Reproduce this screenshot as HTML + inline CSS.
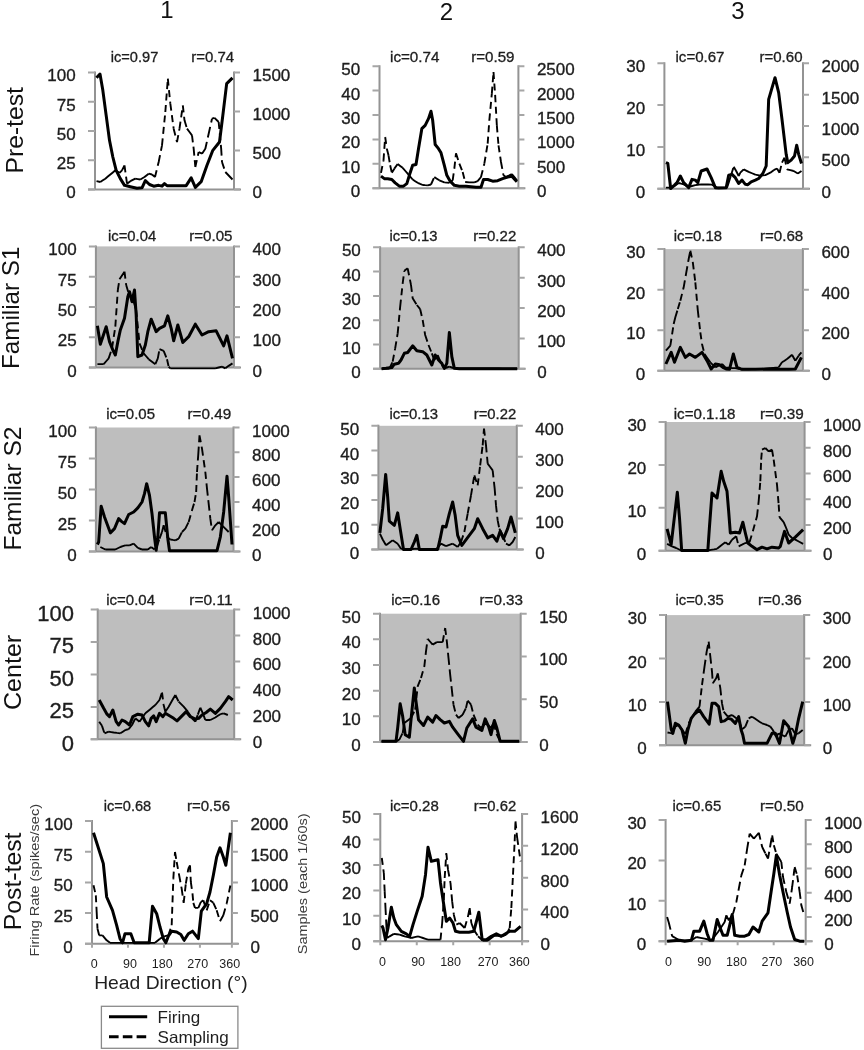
<!DOCTYPE html>
<html><head><meta charset="utf-8"><style>html,body{margin:0;padding:0;background:#fff;}svg{display:block;filter:blur(0.4px)}text{font-family:"Liberation Sans",sans-serif}</style></head><body>
<svg width="864" height="1050" viewBox="0 0 864 1050" font-family="Liberation Sans, sans-serif">
<rect width="864" height="1050" fill="#fff"/>
<g stroke="#939393" stroke-width="2" fill="none">
<path d="M95 71.4V189.4 M234 71.4V189.4 M88 189.4H241"/>
</g>
<path d="M88 72.4H95 M88 101.65H95 M88 130.9H95 M88 160.15H95 M88 189.4H95 M234 72.4H240 M234 111.4H240 M234 150.4H240 M234 189.4H240" stroke="#a6a6a6" stroke-width="2" fill="none"/>
<g fill="#1e1e1e" stroke="#1e1e1e" stroke-width="0.35" font-size="17" text-anchor="end">
<text x="75.7" y="81.4">100</text>
<text x="75.7" y="110.65">75</text>
<text x="75.7" y="139.9">50</text>
<text x="75.7" y="169.15">25</text>
<text x="75.7" y="198.4">0</text>
</g>
<g fill="#1e1e1e" stroke="#1e1e1e" stroke-width="0.35" font-size="17">
<text x="252.5" y="81.4">1500</text>
<text x="252.5" y="120.4">1000</text>
<text x="252.5" y="159.4">500</text>
<text x="252.5" y="198.4">0</text>
</g>
<g fill="#1e1e1e" stroke="#1e1e1e" stroke-width="0.3" font-size="14">
<text x="110.8" y="61.5" textLength="47.5" lengthAdjust="spacingAndGlyphs">ic=0.97</text>
<text x="191.3" y="61.5" textLength="42.9" lengthAdjust="spacingAndGlyphs">r=0.74</text>
</g>
<path d="M96.5 181.17L100.33 182 M100.33 182L102.83 180.33 M102.83 180.33L105.33 178.67 M105.33 178.67L107.83 176.58 M107.83 176.58L110.33 174.5 M110.33 174.5L112.83 172.42 M112.83 172.42L115.33 170.33 M115.33 170.33L119.5 172.83 M119.5 172.83L122 170.33 M122 170.33L124.5 165.33 M124.5 165.33L127 183.67 M127 183.67L130.33 181.17 M130.33 181.17L132.83 179.92 M132.83 179.92L135.33 178.67 M135.33 178.67L137.83 179.08 M137.83 179.08L140.33 179.5 M140.33 179.5L144.5 177 M144.5 177L148.67 173.67 M148.67 173.67L152 174.5 M152 174.5L155 177 M155 177L158.67 162 M158.67 162L162 145.33 M162 145.33L165.33 112 M165.33 112L167.83 78.67 M167.83 78.67L170.33 103.67 M170.33 103.67L173.67 128.67 M173.67 128.67L177 142 M177 142L179.5 128.67 M179.5 128.67L182.83 105.33 M182.83 105.33L184.5 120.33 M184.5 120.33L187 128.67 M187 128.67L189.5 132 M189.5 132L192 135.33 M192 135.33L193.67 148.67 M193.67 148.67L195.33 167 M195.33 167L198.67 152 M198.67 152L202 153.67 M202 153.67L205.33 148.67 M205.33 148.67L208.67 133.67 M208.67 133.67L212 118.67 M212 118.67L214.5 117.83 M214.5 117.83L218.67 122 M218.67 122L221.17 148.67 M221.17 148.67L222 162 M222 162L225.33 172 M225.33 172L228.92 175.75 M228.92 175.75L232.5 179.5" fill="none" stroke="#000" stroke-width="1.9" stroke-dasharray="7 4.5"/>
<path d="M96.5 77.83 L100 74 L102.83 90.33 L106.17 115.33 L109.5 140.33 L112.83 157 L116.17 170.33 L120.33 178.67 L124.5 185.33 L130.33 186.67 L137 188.17 L142 187.83 L145.33 180.67 L149.5 184.5 L153.67 186.17 L158.67 185.33 L162 186.17 L164.5 183.67 L167 185.67 L172 185.67 L178.67 185.67 L186.17 185.67 L191.17 177.83 L195.33 187.33 L201.17 181.67 L207 165.33 L212.83 150.33 L219.5 142 L222.83 115.33 L226.67 83.67 L232.5 77.83" fill="none" stroke="#000" stroke-width="3" stroke-linejoin="round"/>
<g stroke="#939393" stroke-width="2" fill="none">
<path d="M379.5 65.2V188.2 M518.4 65.2V188.2 M372.5 188.2H525.4"/>
</g>
<path d="M372.5 66.2H379.5 M372.5 90.6H379.5 M372.5 115H379.5 M372.5 139.4H379.5 M372.5 163.8H379.5 M372.5 188.2H379.5 M518.4 66.2H524.4 M518.4 90.6H524.4 M518.4 115H524.4 M518.4 139.4H524.4 M518.4 163.8H524.4 M518.4 188.2H524.4" stroke="#a6a6a6" stroke-width="2" fill="none"/>
<g fill="#1e1e1e" stroke="#1e1e1e" stroke-width="0.35" font-size="17" text-anchor="end">
<text x="360.2" y="75.2">50</text>
<text x="360.2" y="99.6">40</text>
<text x="360.2" y="124">30</text>
<text x="360.2" y="148.4">20</text>
<text x="360.2" y="172.8">10</text>
<text x="360.2" y="197.2">0</text>
</g>
<g fill="#1e1e1e" stroke="#1e1e1e" stroke-width="0.35" font-size="17">
<text x="536.9" y="75.2">2500</text>
<text x="536.9" y="99.6">2000</text>
<text x="536.9" y="124">1500</text>
<text x="536.9" y="148.4">1000</text>
<text x="536.9" y="172.8">500</text>
<text x="536.9" y="197.2">0</text>
</g>
<g fill="#1e1e1e" stroke="#1e1e1e" stroke-width="0.3" font-size="14">
<text x="390" y="61.5" textLength="49.5" lengthAdjust="spacingAndGlyphs">ic=0.74</text>
<text x="471.25" y="61.5" textLength="43.25" lengthAdjust="spacingAndGlyphs">r=0.59</text>
</g>
<path d="M381 172.83L383.5 160.33 M383.5 160.33L385.17 137 M385.17 137L386.83 148.67 M386.83 148.67L388.5 155.33 M388.5 155.33L390.17 165.33 M390.17 165.33L391.83 172.83 M391.83 172.83L394.33 168.67 M394.33 168.67L397.67 164 M397.67 164L400.17 165.92 M400.17 165.92L402.67 167.83 M402.67 167.83L405.17 170.75 M405.17 170.75L407.67 173.67 M407.67 173.67L410.17 176.58 M410.17 176.58L412.67 179.5 M412.67 179.5L415.17 181.17 M415.17 181.17L417.67 182.83 M417.67 182.83L420.17 183.92 M420.17 183.92L422.67 185 M422.67 185L425.17 185.17 M425.17 185.17L427.67 185.33 M427.67 185.33L431 184.5 M431 184.5L434.33 177 M434.33 177L436.83 178.67 M436.83 178.67L439.33 180.33 M439.33 180.33L441.83 181.33 M441.83 181.33L444.33 182.33 M444.33 182.33L446.83 182.58 M446.83 182.58L449.33 182.83 M449.33 182.83L452.67 180.33 M452.67 180.33L454.33 168.67 M454.33 168.67L456 153.33 M456 153.33L459.33 163.67 M459.33 163.67L462.67 172 M462.67 172L465.17 182 M465.17 182L469.33 182.33 M469.33 182.33L471.83 182.33 M471.83 182.33L474.33 182.33 M474.33 182.33L477.67 181.17 M477.67 181.17L481 177 M481 177L484.33 163.67 M484.33 163.67L487.67 143.67 M487.67 143.67L489.33 120.33 M489.33 120.33L491.83 93.67 M491.83 93.67L493.5 72 M493.5 72L495.17 95.33 M495.17 95.33L496.83 125.33 M496.83 125.33L498.5 145.33 M498.5 145.33L501 162 M501 162L503.5 175.33 M503.5 175.33L506 177 M506 177L509.33 175.33 M509.33 175.33L511.83 174 M511.83 174L514.37 177.17 M514.37 177.17L516.9 180.33" fill="none" stroke="#000" stroke-width="1.9" stroke-dasharray="7 4.5"/>
<path d="M381 176.17 L384.33 178.67 L387.67 178.67 L391.83 179.5 L395.17 182.83 L399.33 186.17 L403.5 186.17 L406.83 183.67 L409.33 175.33 L412.67 165.33 L416 164.5 L418.5 148.67 L421.83 128.67 L425.17 125.33 L428.5 118.67 L431 111.17 L432.67 120.33 L435.17 144.5 L438.5 148.67 L441 152.83 L444.33 165.33 L446.83 175.33 L450.17 181.17 L454.33 185.33 L459.33 186.17 L466 186.17 L471 186.67 L476 187.33 L481 187.33 L483.5 179.5 L487.67 179.5 L492.67 181.17 L497.67 180.67 L502.67 178.67 L507.67 177 L511.83 176.17 L516.9 181.67" fill="none" stroke="#000" stroke-width="3" stroke-linejoin="round"/>
<g stroke="#939393" stroke-width="2" fill="none">
<path d="M664.4 62.3V188.7 M803 62.3V188.7 M657.4 188.7H810"/>
</g>
<path d="M657.4 63.3H664.4 M657.4 105.1H664.4 M657.4 146.9H664.4 M657.4 188.7H664.4 M803 63.3H809 M803 94.65H809 M803 126H809 M803 157.35H809 M803 188.7H809" stroke="#a6a6a6" stroke-width="2" fill="none"/>
<g fill="#1e1e1e" stroke="#1e1e1e" stroke-width="0.35" font-size="17" text-anchor="end">
<text x="645.1" y="72.3">30</text>
<text x="645.1" y="114.1">20</text>
<text x="645.1" y="155.9">10</text>
<text x="645.1" y="197.7">0</text>
</g>
<g fill="#1e1e1e" stroke="#1e1e1e" stroke-width="0.35" font-size="17">
<text x="821.5" y="72.3">2000</text>
<text x="821.5" y="103.65">1500</text>
<text x="821.5" y="135">1000</text>
<text x="821.5" y="166.35">500</text>
<text x="821.5" y="197.7">0</text>
</g>
<g fill="#1e1e1e" stroke="#1e1e1e" stroke-width="0.3" font-size="14">
<text x="675.5" y="62" textLength="49" lengthAdjust="spacingAndGlyphs">ic=0.67</text>
<text x="759.5" y="62" textLength="43" lengthAdjust="spacingAndGlyphs">r=0.60</text>
</g>
<path d="M665.9 187.67L668.12 187.67 M668.12 187.67L670.33 187.67 M670.33 187.67L674.5 186 M674.5 186L678.67 183 M678.67 183L681.17 183.67 M681.17 183.67L683.67 184.33 M683.67 184.33L686.17 185.58 M686.17 185.58L688.67 186.83 M688.67 186.83L692 186 M692 186L695.33 185.17 M695.33 185.17L697.83 184.75 M697.83 184.75L700.33 184.33 M700.33 184.33L704.22 184.44 M704.22 184.44L708.11 184.56 M708.11 184.56L712 184.67 M712 184.67L714.5 186.17 M714.5 186.17L717 187.67 M717 187.67L720.33 187.67 M720.33 187.67L723.67 187.67 M723.67 187.67L727 187.67 M727 187.67L728.67 182.67 M728.67 182.67L731.17 174.75 M731.17 174.75L733.67 166.83 M733.67 166.83L736.17 171 M736.17 171L738.67 176 M738.67 176L740.33 172.67 M740.33 172.67L743.67 169.33 M743.67 169.33L746.17 170.58 M746.17 170.58L748.67 171.83 M748.67 171.83L752 173.25 M752 173.25L755.33 174.67 M755.33 174.67L757.83 175.17 M757.83 175.17L760.33 175.67 M760.33 175.67L762.83 175.42 M762.83 175.42L765.33 175.17 M765.33 175.17L767.83 173.92 M767.83 173.92L770.33 172.67 M770.33 172.67L773.67 170.17 M773.67 170.17L777 168.5 M777 168.5L779.5 172.67 M779.5 172.67L782 162.67 M782 162.67L784.5 157.67 M784.5 157.67L787 169.33 M787 169.33L790.33 170.17 M790.33 170.17L793.67 171 M793.67 171L797.83 173.5 M797.83 173.5L801.5 171" fill="none" stroke="#000" stroke-width="1.9" stroke-dasharray="7 4.5"/>
<path d="M665.9 162.67 L667.83 163.5 L670.67 188.5 L674.5 185.17 L677 182.67 L680.33 176 L683.67 182.67 L688.67 187.67 L692 179.33 L695.33 180.17 L697.83 182.67 L701.17 171 L707 169 L711.17 177.67 L715.33 187.67 L718.67 188 L726.17 187.67 L728.67 175.17 L732 174.33 L735.33 177.67 L738.67 183.5 L742 180.17 L745.33 184.33 L747.83 184.67 L751.17 181.83 L755.33 180.17 L758.67 178.5 L762.83 173.5 L766.17 166 L768.67 99.33 L775 77.67 L778.67 92.67 L782 119.33 L786.17 154.33 L787.83 162.67 L791.17 160.17 L794.5 156 L796.67 145.17 L798.67 154.33 L801.5 163.5" fill="none" stroke="#000" stroke-width="3" stroke-linejoin="round"/>
<rect x="95.9" y="246.4" width="138.1" height="121.1" fill="#bebebe"/>
<g stroke="#939393" stroke-width="2" fill="none">
<path d="M95.9 245.4V367.5 M234 245.4V367.5 M88.9 367.5H241"/>
</g>
<path d="M88.9 246.4H95.9 M88.9 276.68H95.9 M88.9 306.95H95.9 M88.9 337.23H95.9 M88.9 367.5H95.9 M234 246.4H240 M234 276.68H240 M234 306.95H240 M234 337.23H240 M234 367.5H240" stroke="#a6a6a6" stroke-width="2" fill="none"/>
<g fill="#1e1e1e" stroke="#1e1e1e" stroke-width="0.35" font-size="17" text-anchor="end">
<text x="76.6" y="255.4">100</text>
<text x="76.6" y="285.68">75</text>
<text x="76.6" y="315.95">50</text>
<text x="76.6" y="346.23">25</text>
<text x="76.6" y="376.5">0</text>
</g>
<g fill="#1e1e1e" stroke="#1e1e1e" stroke-width="0.35" font-size="17">
<text x="252.5" y="255.4">400</text>
<text x="252.5" y="285.68">300</text>
<text x="252.5" y="315.95">200</text>
<text x="252.5" y="346.23">100</text>
<text x="252.5" y="376.5">0</text>
</g>
<g fill="#1e1e1e" stroke="#1e1e1e" stroke-width="0.3" font-size="14">
<text x="108" y="241.25" textLength="48.25" lengthAdjust="spacingAndGlyphs">ic=0.04</text>
<text x="189.25" y="241.25" textLength="43.25" lengthAdjust="spacingAndGlyphs">r=0.05</text>
</g>
<path d="M97.4 364.17L100.53 364.17 M100.53 364.17L103.67 364.17 M103.67 364.17L106.17 361.25 M106.17 361.25L108.67 358.33 M108.67 358.33L112 348.33 M112 348.33L115.33 326.67 M115.33 326.67L117.83 290 M117.83 290L119.5 279.17 M119.5 279.17L122 275.42 M122 275.42L124.5 271.67 M124.5 271.67L126.17 285 M126.17 285L128.67 293.33 M128.67 293.33L131.17 297.5 M131.17 297.5L133.67 301.67 M133.67 301.67L136.17 310 M136.17 310L139.5 343.33 M139.5 343.33L143.67 353.33 M143.67 353.33L146.17 356.25 M146.17 356.25L148.67 359.17 M148.67 359.17L152 361.67 M152 361.67L155.33 364.17 M155.33 364.17L157.83 358.33 M157.83 358.33L159.5 349.17 M159.5 349.17L163.67 350.83 M163.67 350.83L167 359.17 M167 359.17L168.67 366.67 M168.67 366.67L170.33 368.33 M170.33 368.33L173.11 368.33 M173.11 368.33L175.89 368.33 M175.89 368.33L178.67 368.33 M178.67 368.33L182 368.33 M182 368.33L185.33 368.33 M185.33 368.33L188.67 368.33 M188.67 368.33L192 368.33 M192 368.33L195.33 368.33 M195.33 368.33L198.67 368.33 M198.67 368.33L202 368.33 M202 368.33L205.33 368.33 M205.33 368.33L208.67 368.33 M208.67 368.33L212 368.33 M212 368.33L215.33 368.33 M215.33 368.33L218.67 367.5 M218.67 367.5L222 366.67 M222 366.67L225.33 368.33 M225.33 368.33L228.67 365.83 M228.67 365.83L232.5 363.33" fill="none" stroke="#000" stroke-width="1.9" stroke-dasharray="7 4.5"/>
<path d="M97.4 325.83 L100.33 344.17 L106.17 326.67 L109.5 341.67 L112.83 350 L115.33 355 L117.83 341.67 L120.33 330 L124.5 318.33 L127.83 296.67 L129.5 291.67 L132 301.67 L134.5 290 L136.17 315 L137.83 356.67 L142 355 L145.33 345 L147.83 331.67 L151.17 319.17 L156.17 331.67 L159.5 328.33 L164.5 325.83 L167.83 315.83 L171.17 328.33 L173.67 340.83 L177.83 325 L182.83 342.5 L188.67 336.67 L195.33 324.17 L202 335 L208.67 331.67 L216.17 330.83 L223.67 345.83 L227 335.83 L232.5 358.33" fill="none" stroke="#000" stroke-width="3" stroke-linejoin="round"/>
<rect x="380.1" y="247.3" width="138.6" height="121.5" fill="#bebebe"/>
<g stroke="#939393" stroke-width="2" fill="none">
<path d="M380.1 246.3V368.8 M518.7 246.3V368.8 M373.1 368.8H525.7"/>
</g>
<path d="M373.1 247.3H380.1 M373.1 271.6H380.1 M373.1 295.9H380.1 M373.1 320.2H380.1 M373.1 344.5H380.1 M373.1 368.8H380.1 M518.7 247.3H524.7 M518.7 277.68H524.7 M518.7 308.05H524.7 M518.7 338.43H524.7 M518.7 368.8H524.7" stroke="#a6a6a6" stroke-width="2" fill="none"/>
<g fill="#1e1e1e" stroke="#1e1e1e" stroke-width="0.35" font-size="17" text-anchor="end">
<text x="360.8" y="256.3">50</text>
<text x="360.8" y="280.6">40</text>
<text x="360.8" y="304.9">30</text>
<text x="360.8" y="329.2">20</text>
<text x="360.8" y="353.5">10</text>
<text x="360.8" y="377.8">0</text>
</g>
<g fill="#1e1e1e" stroke="#1e1e1e" stroke-width="0.35" font-size="17">
<text x="537.2" y="256.3">400</text>
<text x="537.2" y="286.68">300</text>
<text x="537.2" y="317.05">200</text>
<text x="537.2" y="347.43">100</text>
<text x="537.2" y="377.8">0</text>
</g>
<g fill="#1e1e1e" stroke="#1e1e1e" stroke-width="0.3" font-size="14">
<text x="389.5" y="241.25" textLength="48" lengthAdjust="spacingAndGlyphs">ic=0.13</text>
<text x="473.25" y="241.25" textLength="43" lengthAdjust="spacingAndGlyphs">r=0.22</text>
</g>
<path d="M381.6 368.67L385.47 368.67 M385.47 368.67L389.33 368.67 M389.33 368.67L392.67 361.67 M392.67 361.67L395.17 348.33 M395.17 348.33L397.67 333.33 M397.67 333.33L400.17 306.67 M400.17 306.67L402.67 283.33 M402.67 283.33L404.33 270.83 M404.33 270.83L407.67 268.33 M407.67 268.33L411 285 M411 285L412.67 298.33 M412.67 298.33L416.83 305 M416.83 305L420.17 309.17 M420.17 309.17L422.67 320 M422.67 320L425.17 335 M425.17 335L428.5 345 M428.5 345L431.83 353.33 M431.83 353.33L434.33 360 M434.33 360L437.67 355 M437.67 355L441.83 365 M441.83 365L444.33 368.33 M444.33 368.33L446.83 367.5 M446.83 367.5L449.33 366.67 M449.33 366.67L451.83 367.5 M451.83 367.5L454.33 368.33 M454.33 368.33L458.03 368.35 M458.03 368.35L461.73 368.37 M461.73 368.37L465.43 368.39 M465.43 368.39L469.13 368.41 M469.13 368.41L472.82 368.43 M472.82 368.43L476.52 368.45 M476.52 368.45L480.22 368.47 M480.22 368.47L483.92 368.49 M483.92 368.49L487.62 368.51 M487.62 368.51L491.31 368.53 M491.31 368.53L495.01 368.55 M495.01 368.55L498.71 368.57 M498.71 368.57L502.41 368.59 M502.41 368.59L506.11 368.61 M506.11 368.61L509.8 368.63 M509.8 368.63L513.5 368.65 M513.5 368.65L517.2 368.67" fill="none" stroke="#000" stroke-width="1.9" stroke-dasharray="7 4.5"/>
<path d="M381.6 368.67 L386 368.33 L391.83 367.5 L394.33 364.17 L398.5 363.33 L401 360 L404.33 353.33 L407.67 352.5 L412.67 345.83 L416.83 350.83 L422.67 351.67 L426.83 355 L431.83 365 L435.17 355 L438.5 360 L441.83 363.33 L444.33 368.33 L446.83 363.33 L449.33 332.5 L451.83 356.67 L454.33 368.33 L459.33 368.67 L476 368.67 L492.67 368.67 L517.2 368.67" fill="none" stroke="#000" stroke-width="3" stroke-linejoin="round"/>
<rect x="664.4" y="249.1" width="138.5" height="121.7" fill="#bebebe"/>
<g stroke="#939393" stroke-width="2" fill="none">
<path d="M664.4 248.1V370.8 M802.9 248.1V370.8 M657.4 370.8H809.9"/>
</g>
<path d="M657.4 249.1H664.4 M657.4 289.67H664.4 M657.4 330.23H664.4 M657.4 370.8H664.4 M802.9 249.1H808.9 M802.9 289.67H808.9 M802.9 330.23H808.9 M802.9 370.8H808.9" stroke="#a6a6a6" stroke-width="2" fill="none"/>
<g fill="#1e1e1e" stroke="#1e1e1e" stroke-width="0.35" font-size="17" text-anchor="end">
<text x="645.1" y="258.1">30</text>
<text x="645.1" y="298.67">20</text>
<text x="645.1" y="339.23">10</text>
<text x="645.1" y="379.8">0</text>
</g>
<g fill="#1e1e1e" stroke="#1e1e1e" stroke-width="0.35" font-size="17">
<text x="821.4" y="258.1">600</text>
<text x="821.4" y="298.67">400</text>
<text x="821.4" y="339.23">200</text>
<text x="821.4" y="379.8">0</text>
</g>
<g fill="#1e1e1e" stroke="#1e1e1e" stroke-width="0.3" font-size="14">
<text x="673.75" y="241.25" textLength="48.25" lengthAdjust="spacingAndGlyphs">ic=0.18</text>
<text x="760" y="241.25" textLength="43.25" lengthAdjust="spacingAndGlyphs">r=0.68</text>
</g>
<path d="M665.9 350.67L668.12 348.17 M668.12 348.17L670.33 345.67 M670.33 345.67L673.67 324 M673.67 324L675.33 317.33 M675.33 317.33L677.83 309 M677.83 309L680.33 300.67 M680.33 300.67L683.67 287.33 M683.67 287.33L686.17 273.17 M686.17 273.17L688.67 259 M688.67 259L690.33 250.67 M690.33 250.67L692.83 262.33 M692.83 262.33L695.33 282.33 M695.33 282.33L697.83 310.67 M697.83 310.67L700.33 332.33 M700.33 332.33L702 344 M702 344L704.5 354 M704.5 354L707.42 358.17 M707.42 358.17L710.33 362.33 M710.33 362.33L712.83 364.83 M712.83 364.83L715.33 367.33 M715.33 367.33L718.67 365.67 M718.67 365.67L722 364 M722 364L725.33 367.33 M725.33 367.33L728.67 367.75 M728.67 367.75L732 368.17 M732 368.17L735.33 368.17 M735.33 368.17L738.67 368.75 M738.67 368.75L742 369.33 M742 369.33L745.33 369.28 M745.33 369.28L748.67 369.22 M748.67 369.22L752 369.17 M752 369.17L755.33 369.11 M755.33 369.11L758.67 369.06 M758.67 369.06L762 369 M762 369L764.78 368.72 M764.78 368.72L767.56 368.44 M767.56 368.44L770.33 368.17 M770.33 368.17L773.11 367.89 M773.11 367.89L775.89 367.61 M775.89 367.61L778.67 367.33 M778.67 367.33L782 362.33 M782 362.33L784.5 360.67 M784.5 360.67L787 359 M787 359L789.5 356.92 M789.5 356.92L792 354.83 M792 354.83L795.33 360.67 M795.33 360.67L798.67 355.67 M798.67 355.67L801.4 352.33" fill="none" stroke="#000" stroke-width="1.9" stroke-dasharray="7 4.5"/>
<path d="M665.9 364 L671.17 352.33 L674.5 362.33 L680.33 347.33 L685.33 357.33 L689.5 354 L695.33 357.33 L702 352.33 L707 360.67 L711.17 369 L715.33 364 L719.5 364.83 L722.83 367.33 L726.17 369 L729.5 369.33 L733.33 354 L737 367.33 L742 369.33 L755.33 369.33 L770.33 369 L778.67 369.33 L788.67 369.33 L795.33 369 L801.4 357.33" fill="none" stroke="#000" stroke-width="3" stroke-linejoin="round"/>
<rect x="95.9" y="427.5" width="137.6" height="124" fill="#bebebe"/>
<g stroke="#939393" stroke-width="2" fill="none">
<path d="M95.9 426.5V551.5 M233.5 426.5V551.5 M88.9 551.5H240.5"/>
</g>
<path d="M88.9 427.5H95.9 M88.9 458.5H95.9 M88.9 489.5H95.9 M88.9 520.5H95.9 M88.9 551.5H95.9 M233.5 427.5H239.5 M233.5 452.3H239.5 M233.5 477.1H239.5 M233.5 501.9H239.5 M233.5 526.7H239.5 M233.5 551.5H239.5" stroke="#a6a6a6" stroke-width="2" fill="none"/>
<g fill="#1e1e1e" stroke="#1e1e1e" stroke-width="0.35" font-size="17" text-anchor="end">
<text x="76.6" y="436.5">100</text>
<text x="76.6" y="467.5">75</text>
<text x="76.6" y="498.5">50</text>
<text x="76.6" y="529.5">25</text>
<text x="76.6" y="560.5">0</text>
</g>
<g fill="#1e1e1e" stroke="#1e1e1e" stroke-width="0.35" font-size="17">
<text x="252" y="436.5">1000</text>
<text x="252" y="461.3">800</text>
<text x="252" y="486.1">600</text>
<text x="252" y="510.9">400</text>
<text x="252" y="535.7">200</text>
<text x="252" y="560.5">0</text>
</g>
<g fill="#1e1e1e" stroke="#1e1e1e" stroke-width="0.3" font-size="14">
<text x="106.25" y="418.75" textLength="48.75" lengthAdjust="spacingAndGlyphs">ic=0.05</text>
<text x="187.5" y="418.75" textLength="43.75" lengthAdjust="spacingAndGlyphs">r=0.49</text>
</g>
<path d="M100.33 547L102.83 548.25 M102.83 548.25L105.33 549.5 M105.33 549.5L107.83 549.5 M107.83 549.5L110.33 549.5 M110.33 549.5L112.83 549.5 M112.83 549.5L115.33 549.5 M115.33 549.5L117.83 548.25 M117.83 548.25L120.33 547 M120.33 547L122.83 546.17 M122.83 546.17L125.33 545.33 M125.33 545.33L129.5 545.33 M129.5 545.33L133.67 543.67 M133.67 543.67L137.83 547.83 M137.83 547.83L142 549.5 M142 549.5L144.92 549.5 M144.92 549.5L147.83 549.5 M147.83 549.5L151.17 547 M151.17 547L154.5 549.5 M154.5 549.5L157 546.17 M157 546.17L159.5 538.67 M159.5 538.67L162 532 M162 532L163.67 525.33 M163.67 525.33L167 537 M167 537L170.33 539.5 M170.33 539.5L172.83 539.92 M172.83 539.92L175.33 540.33 M175.33 540.33L178.67 538.67 M178.67 538.67L182 532 M182 532L185.33 528.67 M185.33 528.67L188.67 522 M188.67 522L192 510.33 M192 510.33L194.5 502 M194.5 502L196.17 492 M196.17 492L197 472 M197 472L198.33 453.67 M198.33 453.67L199.5 435.33 M199.5 435.33L202 448.67 M202 448.67L203.67 460.33 M203.67 460.33L205.33 472 M205.33 472L207 488.67 M207 488.67L208.67 503.67 M208.67 503.67L210.33 518.67 M210.33 518.67L212 530.33 M212 530.33L215.33 525.33 M215.33 525.33L218.67 522 M218.67 522L222 525.33 M222 525.33L225.33 528.67 M225.33 528.67L228.67 532" fill="none" stroke="#000" stroke-width="1.9" stroke-dasharray="7 4.5"/>
<path d="M97.4 544.5 L98.67 542 L101.17 506.17 L104.5 517 L110.33 532.83 L114.5 528.67 L118.67 518.67 L121.17 521.17 L124.5 523.67 L128.67 514.5 L133.67 512 L137.83 507.83 L142 502 L144.5 493.67 L146.67 483.67 L149.5 495.33 L152 513.67 L154.5 537 L156.17 550.33 L157.83 537 L159.5 512.83 L163.67 512.83 L165.33 512.83 L167.83 538.67 L169.5 550.67 L175.33 550.67 L192 550.67 L208.67 550.67 L217 550.67 L220.33 537 L223.67 512 L227 476.17 L228.67 497 L232 544.5" fill="none" stroke="#000" stroke-width="3" stroke-linejoin="round"/>
<rect x="378.4" y="425.8" width="138.4" height="123.7" fill="#bebebe"/>
<g stroke="#939393" stroke-width="2" fill="none">
<path d="M378.4 424.8V549.5 M516.8 424.8V549.5 M371.4 549.5H523.8"/>
</g>
<path d="M371.4 425.8H378.4 M371.4 450.54H378.4 M371.4 475.28H378.4 M371.4 500.02H378.4 M371.4 524.76H378.4 M371.4 549.5H378.4 M516.8 425.8H522.8 M516.8 456.73H522.8 M516.8 487.65H522.8 M516.8 518.58H522.8 M516.8 549.5H522.8" stroke="#a6a6a6" stroke-width="2" fill="none"/>
<g fill="#1e1e1e" stroke="#1e1e1e" stroke-width="0.35" font-size="17" text-anchor="end">
<text x="359.1" y="434.8">50</text>
<text x="359.1" y="459.54">40</text>
<text x="359.1" y="484.28">30</text>
<text x="359.1" y="509.02">20</text>
<text x="359.1" y="533.76">10</text>
<text x="359.1" y="558.5">0</text>
</g>
<g fill="#1e1e1e" stroke="#1e1e1e" stroke-width="0.35" font-size="17">
<text x="535.3" y="434.8">400</text>
<text x="535.3" y="465.73">300</text>
<text x="535.3" y="496.65">200</text>
<text x="535.3" y="527.58">100</text>
<text x="535.3" y="558.5">0</text>
</g>
<g fill="#1e1e1e" stroke="#1e1e1e" stroke-width="0.3" font-size="14">
<text x="389.5" y="418.75" textLength="48.5" lengthAdjust="spacingAndGlyphs">ic=0.13</text>
<text x="473.75" y="418.75" textLength="42.5" lengthAdjust="spacingAndGlyphs">r=0.22</text>
</g>
<path d="M379.9 533.67L382.67 539.5 M382.67 539.5L386 545.33 M386 545.33L389.33 542.83 M389.33 542.83L392.67 540.33 M392.67 540.33L395.17 542 M395.17 542L397.67 543.67 M397.67 543.67L401 548.67 M401 548.67L403.5 549.08 M403.5 549.08L406 549.5 M406 549.5L409.33 549.22 M409.33 549.22L412.67 548.94 M412.67 548.94L416 548.67 M416 548.67L419.33 549.08 M419.33 549.08L422.67 549.5 M422.67 549.5L426 549.5 M426 549.5L429.33 549.5 M429.33 549.5L432.67 549.5 M432.67 549.5L436 549.5 M436 549.5L438.5 546.58 M438.5 546.58L441 543.67 M441 543.67L443.5 544.92 M443.5 544.92L446 546.17 M446 546.17L449.33 544.92 M449.33 544.92L452.67 543.67 M452.67 543.67L455.17 545.33 M455.17 545.33L457.67 547 M457.67 547L461 542 M461 542L464.33 532 M464.33 532L467.67 513.67 M467.67 513.67L471 495.33 M471 495.33L474.33 475.33 M474.33 475.33L477.67 485.33 M477.67 485.33L480.17 465.33 M480.17 465.33L482.67 445.33 M482.67 445.33L484 428.67 M484 428.67L486 445.33 M486 445.33L487.67 463.67 M487.67 463.67L490.17 467 M490.17 467L492.67 470.33 M492.67 470.33L494.67 488.67 M494.67 488.67L496 505.33 M496 505.33L497.67 520.33 M497.67 520.33L499.33 528.67 M499.33 528.67L502.67 535.33 M502.67 535.33L506 543.67 M506 543.67L509.33 545.33 M509.33 545.33L512.67 542 M512.67 542L515.3 537" fill="none" stroke="#000" stroke-width="1.9" stroke-dasharray="7 4.5"/>
<path d="M379.9 532.83 L382.67 508.67 L385.67 474.5 L387.67 497 L389.33 521.17 L394.33 525.33 L397.67 512.83 L400.17 528.67 L403.5 549.5 L411 549.5 L414.33 542 L416.83 535.33 L419.33 549.5 L426 549.5 L437.67 549.5 L440.17 538.67 L442.67 526.17 L446 527 L449.33 513.67 L452.67 502 L455.17 515.33 L457.67 535.33 L461.83 545.33 L466.83 538.67 L474.33 528.67 L477.67 518.67 L482.67 528.67 L487.67 537.83 L492.67 535.33 L496.83 541.17 L500.17 531.17 L503.5 538.67 L507.67 528.67 L511 517 L515.3 532.83" fill="none" stroke="#000" stroke-width="3" stroke-linejoin="round"/>
<rect x="665.6" y="422" width="139" height="128.7" fill="#bebebe"/>
<g stroke="#939393" stroke-width="2" fill="none">
<path d="M665.6 421V550.7 M804.6 421V550.7 M658.6 550.7H811.6"/>
</g>
<path d="M658.6 422H665.6 M658.6 464.9H665.6 M658.6 507.8H665.6 M658.6 550.7H665.6 M804.6 422H810.6 M804.6 447.74H810.6 M804.6 473.48H810.6 M804.6 499.22H810.6 M804.6 524.96H810.6 M804.6 550.7H810.6" stroke="#a6a6a6" stroke-width="2" fill="none"/>
<g fill="#1e1e1e" stroke="#1e1e1e" stroke-width="0.35" font-size="17" text-anchor="end">
<text x="646.3" y="431">30</text>
<text x="646.3" y="473.9">20</text>
<text x="646.3" y="516.8">10</text>
<text x="646.3" y="559.7">0</text>
</g>
<g fill="#1e1e1e" stroke="#1e1e1e" stroke-width="0.35" font-size="17">
<text x="823.1" y="431">1000</text>
<text x="823.1" y="456.74">800</text>
<text x="823.1" y="482.48">600</text>
<text x="823.1" y="508.22">400</text>
<text x="823.1" y="533.96">200</text>
<text x="823.1" y="559.7">0</text>
</g>
<g fill="#1e1e1e" stroke="#1e1e1e" stroke-width="0.3" font-size="14">
<text x="673.75" y="418.75" textLength="61.75" lengthAdjust="spacingAndGlyphs">ic=0.1.18</text>
<text x="760" y="418.75" textLength="43.75" lengthAdjust="spacingAndGlyphs">r=0.39</text>
</g>
<path d="M667.1 543.83L669.55 545.08 M669.55 545.08L672 546.33 M672 546.33L676.17 548 M676.17 548L678.67 549.25 M678.67 549.25L681.17 550.5 M681.17 550.5L684.71 550.5 M684.71 550.5L688.25 550.5 M688.25 550.5L691.79 550.5 M691.79 550.5L695.33 550.5 M695.33 550.5L698.46 550.5 M698.46 550.5L701.58 550.5 M701.58 550.5L704.71 550.5 M704.71 550.5L707.83 550.5 M707.83 550.5L710.89 549.94 M710.89 549.94L713.94 549.39 M713.94 549.39L717 548.83 M717 548.83L719.5 546.75 M719.5 546.75L722 544.67 M722 544.67L725.33 542.17 M725.33 542.17L728.67 544.67 M728.67 544.67L732 539.67 M732 539.67L736.17 536.33 M736.17 536.33L738.67 546.33 M738.67 546.33L742 544.67 M742 544.67L745.33 543 M745.33 543L749.5 542.17 M749.5 542.17L752.83 531.33 M752.83 531.33L757 516.33 M757 516.33L758.67 501.33 M758.67 501.33L760.33 481.33 M760.33 481.33L761.17 459.67 M761.17 459.67L762 449.67 M762 449.67L765.33 448 M765.33 448L768.67 451.33 M768.67 451.33L772 449.67 M772 449.67L773.67 459.67 M773.67 459.67L777 484.67 M777 484.67L778.67 504.67 M778.67 504.67L779.5 517.17 M779.5 517.17L783.67 522.17 M783.67 522.17L786.17 528 M786.17 528L788.67 534.67 M788.67 534.67L792 538 M792 538L795.33 539.67 M795.33 539.67L799.22 541.75 M799.22 541.75L803.1 543.83" fill="none" stroke="#000" stroke-width="1.9" stroke-dasharray="7 4.5"/>
<path d="M667.1 528.83 L671.17 544.67 L677.33 492.17 L679.5 518 L681.67 550.5 L687 550.5 L695.33 550.5 L707.83 550.5 L709.5 526.33 L712 493 L717 498 L721.17 471.33 L723.67 481.33 L727 491.33 L728.67 511.33 L730.33 533 L735.33 532.17 L739.5 533 L742.83 522.17 L745.33 533 L747.83 543 L752 546.33 L757 549.67 L762 547.17 L767 548.83 L772 547.17 L778.67 548 L780.33 546.33 L784.5 531.33 L788.67 543 L795.33 537.17 L803.1 529.67" fill="none" stroke="#000" stroke-width="3" stroke-linejoin="round"/>
<rect x="97.7" y="609.6" width="136.5" height="129.7" fill="#bebebe"/>
<g stroke="#939393" stroke-width="2" fill="none">
<path d="M97.7 608.6V739.3 M234.2 608.6V739.3 M90.7 739.3H241.2"/>
</g>
<path d="M90.7 609.6H97.7 M90.7 642.02H97.7 M90.7 674.45H97.7 M90.7 706.88H97.7 M90.7 739.3H97.7 M234.2 609.6H240.2 M234.2 635.54H240.2 M234.2 661.48H240.2 M234.2 687.42H240.2 M234.2 713.36H240.2 M234.2 739.3H240.2" stroke="#a6a6a6" stroke-width="2" fill="none"/>
<g fill="#1e1e1e" stroke="#1e1e1e" stroke-width="0.35" font-size="22" text-anchor="end">
<text x="74" y="620.9">100</text>
<text x="74" y="653.32">75</text>
<text x="74" y="685.75">50</text>
<text x="74" y="718.17">25</text>
<text x="74" y="750.6">0</text>
</g>
<g fill="#1e1e1e" stroke="#1e1e1e" stroke-width="0.35" font-size="17">
<text x="252.7" y="618.6">1000</text>
<text x="252.7" y="644.54">800</text>
<text x="252.7" y="670.48">600</text>
<text x="252.7" y="696.42">400</text>
<text x="252.7" y="722.36">200</text>
<text x="252.7" y="748.3">0</text>
</g>
<g fill="#1e1e1e" stroke="#1e1e1e" stroke-width="0.3" font-size="14">
<text x="106.25" y="605" textLength="48.75" lengthAdjust="spacingAndGlyphs">ic=0.04</text>
<text x="189.25" y="605" textLength="43.25" lengthAdjust="spacingAndGlyphs">r=0.11</text>
</g>
<path d="M99.2 721.67L102 725.83 M102 725.83L104.5 733.33 M104.5 733.33L108.67 731.67 M108.67 731.67L111.17 732.08 M111.17 732.08L113.67 732.5 M113.67 732.5L117 732.92 M117 732.92L120.33 733.33 M120.33 733.33L122.83 731.67 M122.83 731.67L125.33 730 M125.33 730L128.67 729.17 M128.67 729.17L132 725 M132 725L135.33 718.33 M135.33 718.33L139.5 721.67 M139.5 721.67L142.42 717.5 M142.42 717.5L145.33 713.33 M145.33 713.33L147.83 711.25 M147.83 711.25L150.33 709.17 M150.33 709.17L152.83 707.08 M152.83 707.08L155.33 705 M155.33 705L159.5 700 M159.5 700L162 692.5 M162 692.5L163.67 705 M163.67 705L165.33 711.67 M165.33 711.67L168.67 706.67 M168.67 706.67L172 700.83 M172 700.83L175.33 695 M175.33 695L178.67 701.67 M178.67 701.67L181.17 704.17 M181.17 704.17L183.67 706.67 M183.67 706.67L187.83 711.67 M187.83 711.67L192 718.33 M192 718.33L195.33 721.67 M195.33 721.67L197.83 714.58 M197.83 714.58L200.33 707.5 M200.33 707.5L202.83 713.33 M202.83 713.33L205.33 720 M205.33 720L207.83 720 M207.83 720L210.33 720 M210.33 720L212.83 718.75 M212.83 718.75L215.33 717.5 M215.33 717.5L217.83 715.83 M217.83 715.83L220.33 714.17 M220.33 714.17L223.67 713.33 M223.67 713.33L227.83 715" fill="none" stroke="#000" stroke-width="1.9" stroke-dasharray="7 4.5"/>
<path d="M99.2 700 L103.67 708.33 L107 714.17 L109.5 716.67 L112.83 710 L116.17 721.67 L118.67 725 L122 720 L125.33 721.67 L129.5 725 L132.83 716.67 L137.83 714.17 L142 715 L145.33 721.67 L148.67 725.83 L151.17 718.33 L153.67 715.83 L156.17 721.67 L159.5 713.33 L162.83 716.67 L165.33 713.33 L169.5 715.83 L173.67 718.33 L177 720.83 L182 715.83 L186.17 711.67 L190.33 716.67 L195.33 719.17 L198.67 718.33 L202 715 L206.17 712.5 L210.33 709.17 L215.33 713.33 L220.33 708.33 L225.33 701.67 L228.67 696.67 L232.7 700" fill="none" stroke="#000" stroke-width="3" stroke-linejoin="round"/>
<rect x="380" y="613.7" width="140.7" height="128.3" fill="#bebebe"/>
<g stroke="#939393" stroke-width="2" fill="none">
<path d="M380 612.7V742 M520.7 612.7V742 M373 742H527.7"/>
</g>
<path d="M373 613.7H380 M373 639.36H380 M373 665.02H380 M373 690.68H380 M373 716.34H380 M373 742H380 M520.7 613.7H526.7 M520.7 656.47H526.7 M520.7 699.23H526.7 M520.7 742H526.7" stroke="#a6a6a6" stroke-width="2" fill="none"/>
<g fill="#1e1e1e" stroke="#1e1e1e" stroke-width="0.35" font-size="17" text-anchor="end">
<text x="360.7" y="622.7">50</text>
<text x="360.7" y="648.36">40</text>
<text x="360.7" y="674.02">30</text>
<text x="360.7" y="699.68">20</text>
<text x="360.7" y="725.34">10</text>
<text x="360.7" y="751">0</text>
</g>
<g fill="#1e1e1e" stroke="#1e1e1e" stroke-width="0.35" font-size="17">
<text x="539.2" y="622.7">150</text>
<text x="539.2" y="665.47">100</text>
<text x="539.2" y="708.23">50</text>
<text x="539.2" y="751">0</text>
</g>
<g fill="#1e1e1e" stroke="#1e1e1e" stroke-width="0.3" font-size="14">
<text x="391.25" y="605" textLength="48.75" lengthAdjust="spacingAndGlyphs">ic=0.16</text>
<text x="479.5" y="605" textLength="43.5" lengthAdjust="spacingAndGlyphs">r=0.33</text>
</g>
<path d="M381.5 741.33L385.12 741.33 M385.12 741.33L388.75 741.33 M388.75 741.33L392.38 741.33 M392.38 741.33L396 741.33 M396 741.33L399.33 739.67 M399.33 739.67L402.67 733 M402.67 733L404.33 723 M404.33 723L407.67 720.5 M407.67 720.5L411 718 M411 718L415.17 709.67 M415.17 709.67L417.67 686.33 M417.67 686.33L421 678 M421 678L424.33 666.33 M424.33 666.33L426 651.33 M426 651.33L427.67 638.83 M427.67 638.83L430.17 641.75 M430.17 641.75L432.67 644.67 M432.67 644.67L436.83 642.17 M436.83 642.17L439.75 642.17 M439.75 642.17L442.67 642.17 M442.67 642.17L445.17 628 M445.17 628L446.83 641.33 M446.83 641.33L448.5 658 M448.5 658L450.17 674.67 M450.17 674.67L451.83 689.67 M451.83 689.67L453.5 704.67 M453.5 704.67L456 714.67 M456 714.67L458.5 718 M458.5 718L462.67 714.67 M462.67 714.67L466 708 M466 708L467.67 700.5 M467.67 700.5L471 704.67 M471 704.67L473.5 714.67 M473.5 714.67L477.67 724.67 M477.67 724.67L481 728 M481 728L485.17 723.83 M485.17 723.83L487.67 724.67 M487.67 724.67L491 728 M491 728L493.5 723 M493.5 723L496.83 734.67 M496.83 734.67L500.17 741.33 M500.17 741.33L503.97 741.33 M503.97 741.33L507.78 741.33 M507.78 741.33L511.59 741.33 M511.59 741.33L515.39 741.33 M515.39 741.33L519.2 741.33" fill="none" stroke="#000" stroke-width="1.9" stroke-dasharray="7 4.5"/>
<path d="M381.5 741.33 L389.33 741.33 L396 741.33 L397.67 728 L400.17 703.83 L402.67 716.33 L405.17 734.67 L409.33 737.17 L411.83 711.33 L414.33 688 L416 701.33 L418.5 719.67 L423.5 725.5 L427.67 717.17 L432.67 722.17 L436 715.5 L440.17 719.67 L444.33 723 L449.33 721.33 L452.67 727.17 L457.67 733.83 L463.5 741.33 L466.83 728 L472.67 718.83 L476 727.17 L481.83 730.5 L485.17 718.83 L488.5 726.33 L491 734.67 L494.33 720.5 L496.83 728 L500.17 741.33 L506 741.33 L519.2 741.33" fill="none" stroke="#000" stroke-width="3" stroke-linejoin="round"/>
<rect x="666" y="615.1" width="138.2" height="130.2" fill="#bebebe"/>
<g stroke="#939393" stroke-width="2" fill="none">
<path d="M666 614.1V745.3 M804.2 614.1V745.3 M659 745.3H811.2"/>
</g>
<path d="M659 615.1H666 M659 658.5H666 M659 701.9H666 M659 745.3H666 M804.2 615.1H810.2 M804.2 658.5H810.2 M804.2 701.9H810.2 M804.2 745.3H810.2" stroke="#a6a6a6" stroke-width="2" fill="none"/>
<g fill="#1e1e1e" stroke="#1e1e1e" stroke-width="0.35" font-size="17" text-anchor="end">
<text x="646.7" y="624.1">30</text>
<text x="646.7" y="667.5">20</text>
<text x="646.7" y="710.9">10</text>
<text x="646.7" y="754.3">0</text>
</g>
<g fill="#1e1e1e" stroke="#1e1e1e" stroke-width="0.35" font-size="17">
<text x="822.7" y="624.1">300</text>
<text x="822.7" y="667.5">200</text>
<text x="822.7" y="710.9">100</text>
<text x="822.7" y="754.3">0</text>
</g>
<g fill="#1e1e1e" stroke="#1e1e1e" stroke-width="0.3" font-size="14">
<text x="675.5" y="605" textLength="48.25" lengthAdjust="spacingAndGlyphs">ic=0.35</text>
<text x="758" y="605" textLength="43.75" lengthAdjust="spacingAndGlyphs">r=0.36</text>
</g>
<path d="M667.5 732.5L669.75 732.92 M669.75 732.92L672 733.33 M672 733.33L675.33 726.67 M675.33 726.67L678.67 725 M678.67 725L682 729.58 M682 729.58L685.33 734.17 M685.33 734.17L688.67 723.33 M688.67 723.33L692 717.5 M692 717.5L695.33 711.67 M695.33 711.67L699.5 706.67 M699.5 706.67L702 685 M702 685L704.5 666.67 M704.5 666.67L706.67 651.67 M706.67 651.67L708.67 641.67 M708.67 641.67L710.33 656.67 M710.33 656.67L712 671.67 M712 671.67L712.83 683.33 M712.83 683.33L716.17 678.33 M716.17 678.33L717.83 673.33 M717.83 673.33L720.33 688.33 M720.33 688.33L722 703.33 M722 703.33L723.67 711.67 M723.67 711.67L727.83 716.67 M727.83 716.67L732 715 M732 715L735.33 717.5 M735.33 717.5L738.67 720 M738.67 720L742 729.17 M742 729.17L745.33 726.67 M745.33 726.67L748.67 718.33 M748.67 718.33L752 716.67 M752 716.67L754.5 718.33 M754.5 718.33L757 720 M757 720L759.5 721.67 M759.5 721.67L762 723.33 M762 723.33L764.5 724.17 M764.5 724.17L767 725 M767 725L770.33 726.67 M770.33 726.67L772.83 730 M772.83 730L776.17 736.67 M776.17 736.67L778.67 733.33 M778.67 733.33L782 735 M782 735L785.33 736.67 M785.33 736.67L788.67 730 M788.67 730L792 728.33 M792 728.33L795.33 734.17 M795.33 734.17L798.67 733.33 M798.67 733.33L802.7 730" fill="none" stroke="#000" stroke-width="1.9" stroke-dasharray="7 4.5"/>
<path d="M667.5 701.67 L671.17 729.17 L672.83 733.33 L675.33 723.33 L678.67 725 L682 730 L685.33 743.33 L687.83 730 L691.17 718.33 L694.5 714.17 L699.5 710 L703.67 716.67 L709.17 724.17 L712 703.33 L715.33 703.33 L718.67 706.67 L721.17 721.67 L724.5 720.83 L727.83 718.33 L731.17 719.17 L735.33 723.33 L738.67 716.67 L741.17 730 L742.83 735 L744.5 743.33 L750.33 743.33 L762 743.33 L767 743.33 L772 733.33 L775.33 733.33 L779.5 743.33 L783.67 720.83 L788.67 726.67 L792.83 743.33 L795.33 735 L798.67 718.33 L802.7 701.67" fill="none" stroke="#000" stroke-width="3" stroke-linejoin="round"/>
<g stroke="#939393" stroke-width="2" fill="none">
<path d="M92 820.1V943.7 M231.9 820.1V943.7 M85 943.7H238.9"/>
</g>
<path d="M85 821.1H92 M85 851.75H92 M85 882.4H92 M85 913.05H92 M85 943.7H92 M231.9 821.1H237.9 M231.9 851.75H237.9 M231.9 882.4H237.9 M231.9 913.05H237.9 M231.9 943.7H237.9 M92 943.7V947.7 M127.97 943.7V947.7 M163.95 943.7V947.7 M199.92 943.7V947.7 M231.9 943.7V947.7" stroke="#a6a6a6" stroke-width="2" fill="none"/>
<g fill="#1e1e1e" stroke="#1e1e1e" stroke-width="0.35" font-size="17" text-anchor="end">
<text x="72.7" y="830.1">100</text>
<text x="72.7" y="860.75">75</text>
<text x="72.7" y="891.4">50</text>
<text x="72.7" y="922.05">25</text>
<text x="72.7" y="952.7">0</text>
</g>
<g fill="#1e1e1e" stroke="#1e1e1e" stroke-width="0.35" font-size="17">
<text x="250.4" y="830.1">2000</text>
<text x="250.4" y="860.75">1500</text>
<text x="250.4" y="891.4">1000</text>
<text x="250.4" y="922.05">500</text>
<text x="250.4" y="952.7">0</text>
</g>
<g fill="#1e1e1e" stroke="#1e1e1e" stroke-width="0.3" font-size="14">
<text x="103.75" y="810.5" textLength="47.5" lengthAdjust="spacingAndGlyphs">ic=0.68</text>
<text x="187" y="810.5" textLength="43" lengthAdjust="spacingAndGlyphs">r=0.56</text>
</g>
<g fill="#1e1e1e" font-size="12.5" text-anchor="middle">
<text x="94.3" y="968.2">0</text>
<text x="130" y="968.2">90</text>
<text x="162.3" y="968.2">180</text>
<text x="197.7" y="968.2">270</text>
<text x="229.8" y="968.2">360</text>
</g>
<path d="M93.5 885.33L95.83 895.33 M95.83 895.33L96.67 912 M96.67 912L97.5 928.67 M97.5 928.67L99.17 935.33 M99.17 935.33L102.5 935.33 M102.5 935.33L106.67 940.33 M106.67 940.33L110 942.83 M110 942.83L113.33 942.83 M113.33 942.83L116.67 942.83 M116.67 942.83L120 942.83 M120 942.83L124 942.83 M124 942.83L128 942.83 M128 942.83L132 942.83 M132 942.83L136 942.83 M136 942.83L140 942.83 M140 942.83L143.75 942.83 M143.75 942.83L147.5 942.83 M147.5 942.83L151.25 942.83 M151.25 942.83L155 942.83 M155 942.83L157.5 940.75 M157.5 940.75L160 938.67 M160 938.67L162.5 937.42 M162.5 937.42L165 936.17 M165 936.17L168.33 935.33 M168.33 935.33L171.67 925.33 M171.67 925.33L173.33 878.67 M173.33 878.67L175 852 M175 852L176.67 862 M176.67 862L179.17 875.33 M179.17 875.33L181.67 888.67 M181.67 888.67L183.67 902.83 M183.67 902.83L185.83 883.67 M185.83 883.67L188.33 868.67 M188.33 868.67L190 865.33 M190 865.33L190.83 882 M190.83 882L192.5 893.67 M192.5 893.67L193.33 902.83 M193.33 902.83L195 907.83 M195 907.83L198.33 907.83 M198.33 907.83L200.83 902 M200.83 902L203.33 900.33 M203.33 900.33L206.67 910.33 M206.67 910.33L210 900.33 M210 900.33L213.33 902.83 M213.33 902.83L216.67 910.33 M216.67 910.33L220 921.17 M220 921.17L223.33 915.33 M223.33 915.33L226.67 903.67 M226.67 903.67L230.4 885.33" fill="none" stroke="#000" stroke-width="1.9" stroke-dasharray="7 4.5"/>
<path d="M93.5 832.83 L97.5 845.33 L103.33 863.67 L106.67 897 L112.5 910.33 L116.67 925.33 L120 938.67 L122.5 942.83 L125 933.67 L130.83 933.67 L134.17 942.83 L140 942.83 L149.17 942.83 L152.5 906.17 L156.67 913.67 L160 927 L163.33 938.67 L165.83 942.83 L168.33 936.17 L171.67 931.17 L176.67 932 L180.83 934.5 L184.17 940.33 L188.33 933.67 L192.5 931.17 L198.33 938.67 L201.33 911.17 L206.67 903.67 L210 892 L213.33 875.33 L216.67 857 L220 847.83 L223.33 857 L225.83 865.33 L230.4 832.83" fill="none" stroke="#000" stroke-width="3" stroke-linejoin="round"/>
<g stroke="#939393" stroke-width="2" fill="none">
<path d="M380.3 813V941.3 M522.1 813V941.3 M373.3 941.3H529.1"/>
</g>
<path d="M373.3 814H380.3 M373.3 839.46H380.3 M373.3 864.92H380.3 M373.3 890.38H380.3 M373.3 915.84H380.3 M373.3 941.3H380.3 M522.1 814H528.1 M522.1 845.83H528.1 M522.1 877.65H528.1 M522.1 909.47H528.1 M522.1 941.3H528.1 M380.3 941.3V945.3 M416.76 941.3V945.3 M453.23 941.3V945.3 M489.69 941.3V945.3 M522.1 941.3V945.3" stroke="#a6a6a6" stroke-width="2" fill="none"/>
<g fill="#1e1e1e" stroke="#1e1e1e" stroke-width="0.35" font-size="17" text-anchor="end">
<text x="361" y="823">50</text>
<text x="361" y="848.46">40</text>
<text x="361" y="873.92">30</text>
<text x="361" y="899.38">20</text>
<text x="361" y="924.84">10</text>
<text x="361" y="950.3">0</text>
</g>
<g fill="#1e1e1e" stroke="#1e1e1e" stroke-width="0.35" font-size="17">
<text x="540.6" y="823">1600</text>
<text x="540.6" y="854.83">1200</text>
<text x="540.6" y="886.65">800</text>
<text x="540.6" y="918.47">400</text>
<text x="540.6" y="950.3">0</text>
</g>
<g fill="#1e1e1e" stroke="#1e1e1e" stroke-width="0.3" font-size="14">
<text x="390" y="810.5" textLength="48.75" lengthAdjust="spacingAndGlyphs">ic=0.28</text>
<text x="473.75" y="810.5" textLength="42.5" lengthAdjust="spacingAndGlyphs">r=0.62</text>
</g>
<g fill="#1e1e1e" font-size="12.5" text-anchor="middle">
<text x="382.5" y="965.8">0</text>
<text x="418.1" y="965.8">90</text>
<text x="450.6" y="965.8">180</text>
<text x="488.1" y="965.8">270</text>
<text x="519.4" y="965.8">360</text>
</g>
<path d="M381.8 858L383.83 873 M383.83 873L384.67 891.33 M384.67 891.33L385.5 908 M385.5 908L386.33 924.67 M386.33 924.67L387.17 938 M387.17 938L389.67 936.33 M389.67 936.33L393.83 933.83 M393.83 933.83L396.75 934.25 M396.75 934.25L399.67 934.67 M399.67 934.67L402.17 935.5 M402.17 935.5L404.67 936.33 M404.67 936.33L408 937.17 M408 937.17L411.33 938 M411.33 938L414.67 937.17 M414.67 937.17L418 936.33 M418 936.33L420.5 937.17 M420.5 937.17L423 938 M423 938L425.5 938.83 M425.5 938.83L428 939.67 M428 939.67L431.33 939.67 M431.33 939.67L434.67 939.67 M434.67 939.67L437.58 939.67 M437.58 939.67L440.5 939.67 M440.5 939.67L442.17 923 M442.17 923L443.83 899.67 M443.83 899.67L444.67 878 M444.67 878L446.33 853 M446.33 853L448 869.67 M448 869.67L450.5 883 M450.5 883L452.17 901.33 M452.17 901.33L453.83 914.67 M453.83 914.67L456.33 924.67 M456.33 924.67L459.67 923 M459.67 923L462.17 925.5 M462.17 925.5L464.67 928 M464.67 928L468 916.33 M468 916.33L469.67 908 M469.67 908L471.33 923 M471.33 923L473.83 929.67 M473.83 929.67L478 936.33 M478 936.33L480.5 938.42 M480.5 938.42L483 940.5 M483 940.5L485.5 940.5 M485.5 940.5L488 940.5 M488 940.5L491.33 938 M491.33 938L494.67 935.5 M494.67 935.5L498 935.92 M498 935.92L501.33 936.33 M501.33 936.33L503.83 935.5 M503.83 935.5L506.33 934.67 M506.33 934.67L509.67 928 M509.67 928L511.33 908 M511.33 908L513 874.67 M513 874.67L514.67 841.33 M514.67 841.33L515.5 821.33 M515.5 821.33L517.17 838 M517.17 838L520.6 861.33" fill="none" stroke="#000" stroke-width="1.9" stroke-dasharray="7 4.5"/>
<path d="M381.8 925.5 L383 928 L385.5 939.67 L388 928 L391.33 907.17 L393.83 918 L396.33 924.67 L401.33 931.33 L406.33 933.83 L409.67 936.33 L413 924.67 L417.17 911.33 L422.17 896.33 L425.5 874.67 L428 847.17 L431.33 861.33 L434.67 860.5 L438 859.67 L440.5 883 L443 899.67 L446.33 921.33 L449.67 918 L453 923 L455.5 931.33 L459.67 932.17 L464.67 932.17 L468.83 932.17 L473.83 931.33 L478.83 912.17 L482.17 939.67 L486.33 939.67 L491.33 936.33 L496.33 933.83 L501.33 936.33 L505.5 933.83 L509.67 931.33 L514.67 931.33 L520.6 926.33" fill="none" stroke="#000" stroke-width="3" stroke-linejoin="round"/>
<g stroke="#939393" stroke-width="2" fill="none">
<path d="M665.6 819V941.3 M805.7 819V941.3 M658.6 941.3H812.7"/>
</g>
<path d="M658.6 820H665.6 M658.6 860.43H665.6 M658.6 900.87H665.6 M658.6 941.3H665.6 M805.7 820H811.7 M805.7 844.26H811.7 M805.7 868.52H811.7 M805.7 892.78H811.7 M805.7 917.04H811.7 M805.7 941.3H811.7 M665.6 941.3V945.3 M701.63 941.3V945.3 M737.65 941.3V945.3 M773.68 941.3V945.3 M805.7 941.3V945.3" stroke="#a6a6a6" stroke-width="2" fill="none"/>
<g fill="#1e1e1e" stroke="#1e1e1e" stroke-width="0.35" font-size="17" text-anchor="end">
<text x="646.3" y="829">30</text>
<text x="646.3" y="869.43">20</text>
<text x="646.3" y="909.87">10</text>
<text x="646.3" y="950.3">0</text>
</g>
<g fill="#1e1e1e" stroke="#1e1e1e" stroke-width="0.35" font-size="17">
<text x="824.2" y="829">1000</text>
<text x="824.2" y="853.26">800</text>
<text x="824.2" y="877.52">600</text>
<text x="824.2" y="901.78">400</text>
<text x="824.2" y="926.04">200</text>
<text x="824.2" y="950.3">0</text>
</g>
<g fill="#1e1e1e" stroke="#1e1e1e" stroke-width="0.3" font-size="14">
<text x="672.5" y="810.5" textLength="48.75" lengthAdjust="spacingAndGlyphs">ic=0.65</text>
<text x="760" y="810.5" textLength="43.75" lengthAdjust="spacingAndGlyphs">r=0.50</text>
</g>
<g fill="#1e1e1e" font-size="12.5" text-anchor="middle">
<text x="668.4" y="965.8">0</text>
<text x="704.2" y="965.8">90</text>
<text x="736.5" y="965.8">180</text>
<text x="771.9" y="965.8">270</text>
<text x="803.6" y="965.8">360</text>
</g>
<path d="M667.1 917L668.83 922.83 M668.83 922.83L672.17 936.17 M672.17 936.17L675.92 938.25 M675.92 938.25L679.67 940.33 M679.67 940.33L683.56 940.33 M683.56 940.33L687.44 940.33 M687.44 940.33L691.33 940.33 M691.33 940.33L693.83 938.67 M693.83 938.67L696.33 937 M696.33 937L700.5 937.83 M700.5 937.83L704.67 938.67 M704.67 938.67L708 939.5 M708 939.5L711.33 940.33 M711.33 940.33L714.67 936.17 M714.67 936.17L718 932 M718 932L721.33 927 M721.33 927L724.67 922 M724.67 922L726.33 915.33 M726.33 915.33L728.83 920.33 M728.83 920.33L733 913.67 M733 913.67L736.33 902 M736.33 902L738.83 888.67 M738.83 888.67L741.33 875.33 M741.33 875.33L744.67 865.33 M744.67 865.33L747.17 848.67 M747.17 848.67L749.67 833.67 M749.67 833.67L753.83 838.67 M753.83 838.67L756.33 835.75 M756.33 835.75L758.83 832.83 M758.83 832.83L762.17 847 M762.17 847L765.5 853.67 M765.5 853.67L768 858.67 M768 858.67L770.5 844.5 M770.5 844.5L772.17 835.33 M772.17 835.33L773.83 845.33 M773.83 845.33L776.33 853.67 M776.33 853.67L778.83 857.83 M778.83 857.83L781.33 862 M781.33 862L783 877 M783 877L786.33 892 M786.33 892L789.67 903.67 M789.67 903.67L792.17 887 M792.17 887L794.67 867 M794.67 867L797.17 875.33 M797.17 875.33L799.67 892 M799.67 892L801.33 905.33 M801.33 905.33L804.2 915.33" fill="none" stroke="#000" stroke-width="1.9" stroke-dasharray="7 4.5"/>
<path d="M667.1 941.17 L673 940.67 L679.67 940.33 L684.67 941.17 L691.33 940.33 L693.83 931.17 L699.67 931.17 L703.83 921.17 L707.17 933.67 L709.67 940.33 L713 940.33 L717.17 919.5 L720.5 928.67 L723 935.33 L727.17 935.33 L729.67 925.33 L732.17 914.5 L734.67 935.33 L739.67 936.17 L744.67 936.17 L748.83 934.5 L753 927 L758.83 932 L762.17 921.17 L768 912.83 L771.33 890.33 L773.83 873.67 L776.33 855.33 L779.67 875.33 L783 892 L787.17 912 L790.5 927 L794.67 939.5 L799.67 941.17 L804.2 941.17" fill="none" stroke="#000" stroke-width="3" stroke-linejoin="round"/>
<g fill="#111" font-size="24" text-anchor="middle">
<text x="167" y="18">1</text><text x="446.5" y="20">2</text><text x="738" y="18.7">3</text>
</g>
<g fill="#111" font-size="24">
<text transform="translate(22.5 173.5) rotate(-90)" x="0" y="0" textLength="86.4" lengthAdjust="spacingAndGlyphs">Pre-test</text>
<text transform="translate(19.3 369.1) rotate(-90)" x="0" y="0" textLength="122.6" lengthAdjust="spacingAndGlyphs">Familiar S1</text>
<text transform="translate(20.6 550.6) rotate(-90)" x="0" y="0" textLength="124.1" lengthAdjust="spacingAndGlyphs">Familiar S2</text>
<text transform="translate(20.6 710) rotate(-90)" x="0" y="0" textLength="75.2" lengthAdjust="spacingAndGlyphs">Center</text>
<text transform="translate(20.6 930.2) rotate(-90)" x="0" y="0" textLength="97.7" lengthAdjust="spacingAndGlyphs">Post-test</text>
</g>
<g fill="#3c3c3c" font-size="13">
<text transform="translate(39 956.6) rotate(-90)" textLength="152.6" lengthAdjust="spacingAndGlyphs">Firing Rate (spikes/sec)</text>
<text transform="translate(306.5 954.2) rotate(-90)" textLength="140.7" lengthAdjust="spacingAndGlyphs">Samples (each 1/60s)</text>
</g>
<text x="94.2" y="988.8" font-size="18.5" fill="#1e1e1e" textLength="153.5" lengthAdjust="spacingAndGlyphs">Head Direction (°)</text>
<rect x="101.4" y="1006.3" width="136.5" height="42" fill="#fff" stroke="#8a8a8a" stroke-width="1.3"/>
<path d="M109 1016.7H147.2" stroke="#000" stroke-width="3"/>
<path d="M109 1036.7H147.2" stroke="#000" stroke-width="3" stroke-dasharray="9.6 4.2"/>
<g fill="#1e1e1e" font-size="16.5">
<text x="157.6" y="1022.8" textLength="42.6" lengthAdjust="spacingAndGlyphs">Firing</text>
<text x="157.6" y="1042.7" textLength="71.2" lengthAdjust="spacingAndGlyphs">Sampling</text>
</g>
</svg></body></html>
